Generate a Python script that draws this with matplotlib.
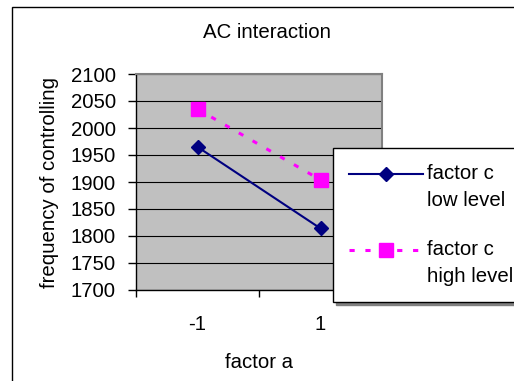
import matplotlib
matplotlib.use("Agg")
import matplotlib.pyplot as plt
from matplotlib.patches import Rectangle
from matplotlib.legend_handler import HandlerLine2D
from matplotlib.transforms import Affine2D

# Data
factor_a = ["-1", "1"]
c_low = [1965, 1814]
c_high = [2035, 1904]
series_labels = ["factor c\nlow level", "factor c\nhigh level"]
y_ticks = [1700, 1750, 1800, 1850, 1900, 1950, 2000, 2050, 2100]

FS = 14.7
plt.rcParams["font.family"] = ["Liberation Sans", "DejaVu Sans"]
plt.rcParams["font.size"] = FS

W, H = 514, 381
fig = plt.figure(figsize=(W / 100, H / 100), dpi=100)
fig.patch.set_facecolor("white")

# outer chart frame (left and top edges fall inside the canvas)
fig.add_artist(Rectangle((12 / W, -0.2), 1.5, 1.2 - 7 / H,
                         transform=fig.transFigure, fill=False,
                         edgecolor="black", linewidth=1.0))

left, right, top, bottom = 136, 382, 74, 290
ax = fig.add_axes([left / W, 1 - bottom / H, (right - left) / W, (bottom - top) / H])
ax.set_facecolor("#C0C0C0")

x = [i + 0.5 for i in range(len(factor_a))]
ax.plot(x, c_low, color="#000080", linewidth=1.5, marker="D", markersize=7,
        markerfacecolor="#000080", markeredgecolor="#000080",
        label=series_labels[0], zorder=3)
ax.plot(x, c_high, color="#FF00FF", linewidth=2.2, linestyle=(0, (1.7, 3.5)),
        marker="s", markersize=10, markerfacecolor="#FF00FF",
        markeredgecolor="#FF00FF", label=series_labels[1], zorder=3)

ax.set_xlim(0, len(factor_a))
ax.set_ylim(y_ticks[0], y_ticks[-1])
ax.set_yticks(y_ticks)
ax.set_xticks(x)
ax.set_xticklabels(factor_a)
ax.set_xticks(range(len(factor_a) + 1), minor=True)
ax.tick_params(axis="x", which="major", length=0, pad=18)
ax.tick_params(axis="x", which="minor", length=5, width=1, direction="out")
ax.tick_params(axis="y", length=6, width=1, direction="out", pad=8.5)
ax.grid(axis="y", color="black", linewidth=0.8)
ax.set_axisbelow(True)

for side in ("left", "bottom"):
    ax.spines[side].set_color("black")
    ax.spines[side].set_linewidth(1.0)
for side in ("right", "top"):
    ax.spines[side].set_color("#808080")
    ax.spines[side].set_linewidth(1.5)

ax.set_xlabel("factor a", labelpad=14)
ax.set_ylabel("frequency of controlling", labelpad=8)
fig.text(267 / W, 1 - 32 / H, "AC interaction", ha="center", va="center")


class FirstLineHandler(HandlerLine2D):
    """Put the legend key beside the first line of a two-line label."""

    def create_artists(self, legend, orig_handle, xdescent, ydescent,
                       width, height, fontsize, trans):
        shifted = Affine2D().translate(0, 0.66 * fontsize) + trans
        return super().create_artists(legend, orig_handle, xdescent, ydescent,
                                      width, height, fontsize, shifted)


handles, labels = ax.get_legend_handles_labels()
leg = fig.legend(handles, labels, loc="upper left",
                 bbox_to_anchor=(333 / W, 1 - 148 / H), borderaxespad=0,
                 frameon=True, fancybox=False, framealpha=1,
                 edgecolor="black", facecolor="white",
                 borderpad=0.8, labelspacing=1.5, handlelength=3.6,
                 handletextpad=0.22, numpoints=1,
                 shadow={"color": "#808080", "alpha": 1},
                 handler_map={h: FirstLineHandler() for h in handles})
leg.get_frame().set_linewidth(1.0)
for t in leg.get_texts():
    t.set_linespacing(1.5)

fig.savefig("out.png", dpi=100)
